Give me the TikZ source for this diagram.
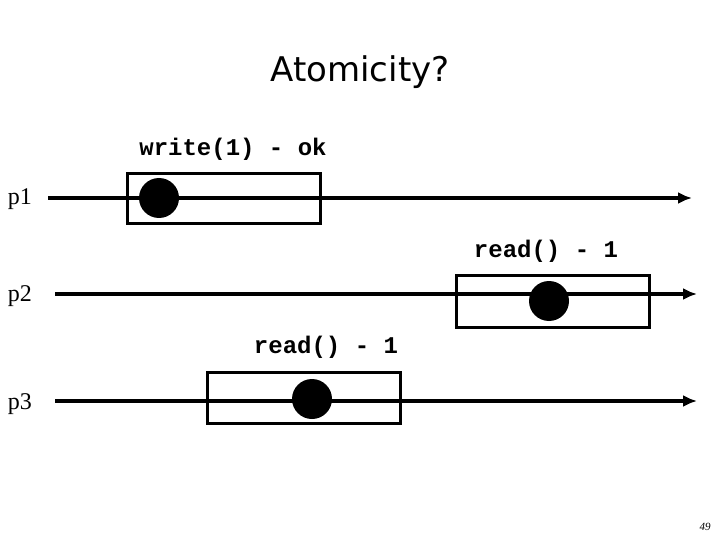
\documentclass[tikz,border=0pt]{standalone}
\usepackage{fontspec}
\setmainfont{Liberation Serif}
\newfontfamily\ttb{Liberation Mono}
\newfontfamily\sans{DejaVu Sans}
\begin{document}
\begin{tikzpicture}[x=1pt,y=-1pt,
  line/.style={line width=4.5pt,-{Latex[length=14pt,width=12pt]}},
  box/.style={draw,line width=3pt},
  dot/.style={circle,fill=black,minimum size=40pt,inner sep=0pt},
  op/.style={font=\ttb\bfseries\fontsize{24}{28}\selectfont},
  proc/.style={font=\fontsize{24}{28}\selectfont}]
\usetikzlibrary{arrows.meta}
\useasboundingbox (0,0) rectangle (720,540);
\node[font=\sans\fontsize{34}{40}\selectfont] (title) at (360,72) {Atomicity?};
\node[proc] (p1) at (20,199) {p1};
\node[proc] (p2) at (20,296) {p2};
\node[proc] (p3) at (20,404) {p3};
\coordinate (a1) at (48,198); \coordinate (b1) at (692,198);
\coordinate (a2) at (55,294); \coordinate (b2) at (697,294);
\coordinate (a3) at (55,401); \coordinate (b3) at (697,401);
\draw[line] (a1) -- (b1);
\draw[line] (a2) -- (b2);
\draw[line] (a3) -- (b3);
\draw[box] (127,174) rectangle (320,224);
\draw[box] (456,275) rectangle (649,327);
\draw[box] (207,372) rectangle (400,423);
\node[dot] (d1) at (159,198) {};
\node[dot] (d2) at (549,301) {};
\node[dot] (d3) at (312,399) {};
\node[op] (l1) at (233,149) {write(1) - ok};
\node[op] (l2) at (546,251) {read() - 1};
\node[op] (l3) at (326,347) {read() - 1};
\node[font=\itshape\fontsize{11}{13}\selectfont] (pg) at (705,527) {49};
\end{tikzpicture}
\end{document}
